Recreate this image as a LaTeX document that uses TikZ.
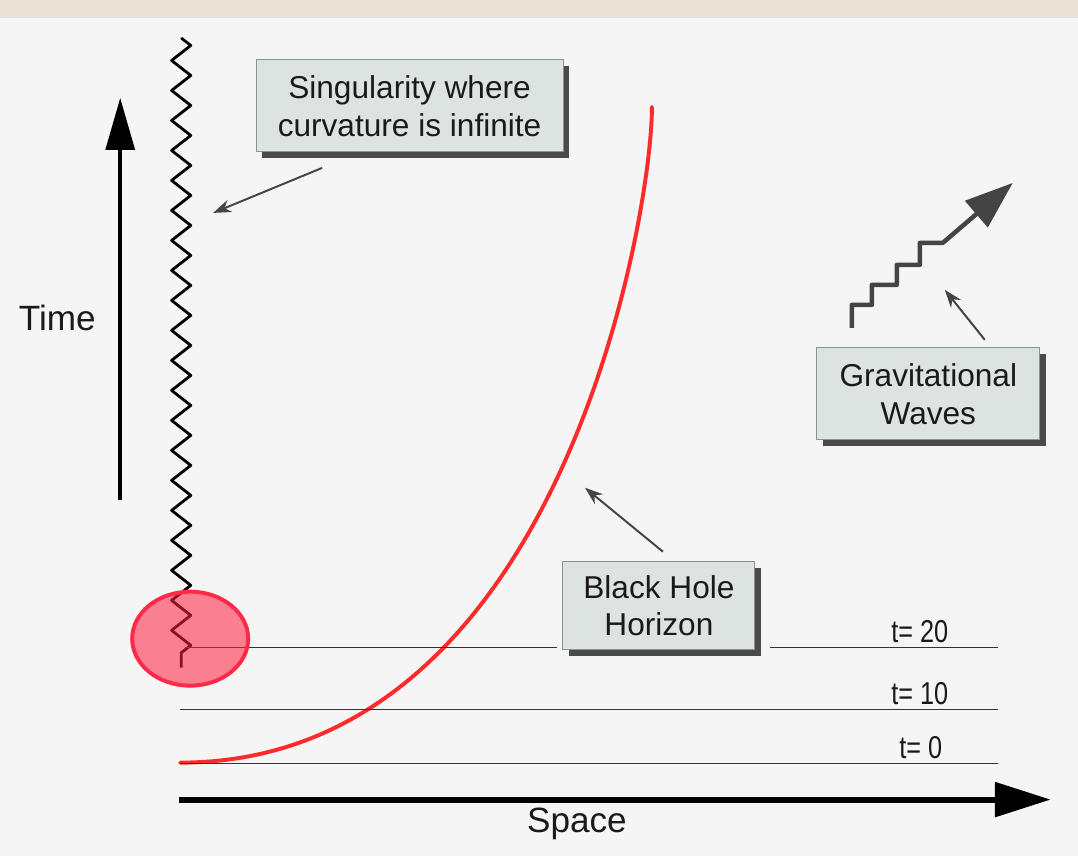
\documentclass[tikz,border=0pt]{standalone}
\usepackage{fontspec}
\setmainfont{Liberation Sans}
\newfontfamily\narrowfont[FakeStretch=0.8]{Liberation Sans}
\usetikzlibrary{arrows.meta,decorations.pathmorphing,shadows}
\definecolor{bg}{HTML}{F5F5F5}
\definecolor{band}{HTML}{E8E3D6}
\definecolor{boxfill}{HTML}{DDE3E1}
\definecolor{boxline}{HTML}{8C9290}
\definecolor{shadowc}{HTML}{4A4A4A}
\definecolor{horizon}{HTML}{FF2A2A}
\definecolor{blobfill}{HTML}{FF2040}
\definecolor{blobline}{HTML}{FF2A48}
\definecolor{ink}{HTML}{1A1A1A}
\definecolor{pointer}{HTML}{444444}
\begin{document}
\begin{tikzpicture}[x=0.025cm,y=-0.025cm,
  label box/.style={draw=boxline, line width=0.7pt, fill=boxfill, text=ink, align=center,
    font=\fontsize{22.5}{27}\selectfont, inner sep=0pt,
    drop shadow={shadow xshift=0.15cm, shadow yshift=-0.15cm, fill=shadowc, opacity=1}},
  pointer arrow/.style={draw=pointer, line width=1.4pt, -{Stealth[length=0.45cm,width=0.32cm]}},
  tline/.style={draw=black!80, line width=1.1pt},
  tlabel/.style={font=\narrowfont\fontsize{22.5}{26}\selectfont, text=ink, inner sep=0pt, anchor=base},
  axis label/.style={font=\fontsize{25}{30}\selectfont, text=ink, inner sep=0pt}
]
% background
\fill[bg] (0,0) rectangle (1078,856);
\fill[band] (0,0) rectangle (1078,17);
\draw[black!12] (0,17.5) -- (1078,17.5);
\useasboundingbox (0,0) rectangle (1078,856);

% singularity zigzag
\coordinate (zt) at (181,38);
\coordinate (zb) at (181,668);
\draw[line width=2pt, line join=round, decorate,
  decoration={zigzag, segment length=0.75cm, amplitude=0.24cm}] (zt) -- (zb);

% horizon curve
\coordinate (hb) at (180,763);
\coordinate (hc1) at (560,763);
\coordinate (hc2) at (652,215);
\coordinate (ht) at (652,107);
\draw[horizon, line width=2.8pt, line cap=round] (hb) .. controls (hc1) and (hc2) .. (ht);

% time slices
\draw[tline] (185,648) -- (557,648);
\draw[tline] (770,648) -- (998,648);
\draw[tline] (180,710) -- (998,710);
\draw[tline] (180,764) -- (998,764);
\node[tlabel] (t20) at (920,643) {t= 20};
\node[tlabel] (t10) at (920,705) {t= 10};
\node[tlabel] (t0) at (921,759) {t= 0};

% highlight blob
\draw[blobline, line width=2.8pt, fill=blobfill, fill opacity=0.55]
  (190,639) ellipse [x radius=1.45cm, y radius=1.175cm];

% axes
\coordinate (tb) at (120,500);
\coordinate (tt) at (120,98);
\draw[line width=2.8pt, -{Triangle[length=1.3cm,width=0.72cm]}] (tb) -- (tt);
\node[axis label] (time) at (57,318) {Time};
\coordinate (sb) at (179,800);
\coordinate (se) at (1051,800);
\draw[line width=4.2pt, -{Triangle[length=1.4cm,width=0.85cm]}] (sb) -- (se);
\node[axis label] (space) at (577,824) {Space};

% gravitational wave
\draw[pointer, line width=3.2pt, line join=round, -{Triangle[length=1.2cm,width=0.85cm]}]
  (852,328) -- (852,305) -- (872,305) -- (872,285) -- (897,285) -- (897,265)
  -- (920,265) -- (920,243) -- (943,243) -- (1013,183);

% label boxes
\node[label box, minimum width=7.675cm, minimum height=2.3cm] (sing) at (409.5,106)
  {Singularity where\\curvature is infinite};
\node[label box, minimum width=4.8cm, minimum height=2.2cm] (bh) at (659,606)
  {Black Hole\\Horizon};
\node[label box, minimum width=5.575cm, minimum height=2.3cm] (gw) at (928.5,394)
  {Gravitational\\Waves};

% pointers
\coordinate (p1s) at (322,168);
\coordinate (p1e) at (213,213);
\draw[pointer arrow] (p1s) -- (p1e);
\coordinate (p2s) at (663,552);
\coordinate (p2e) at (585,488);
\draw[pointer arrow] (p2s) -- (p2e);
\coordinate (p3s) at (985,340);
\coordinate (p3e) at (945,290);
\draw[pointer arrow] (p3s) -- (p3e);
\end{tikzpicture}
\end{document}
